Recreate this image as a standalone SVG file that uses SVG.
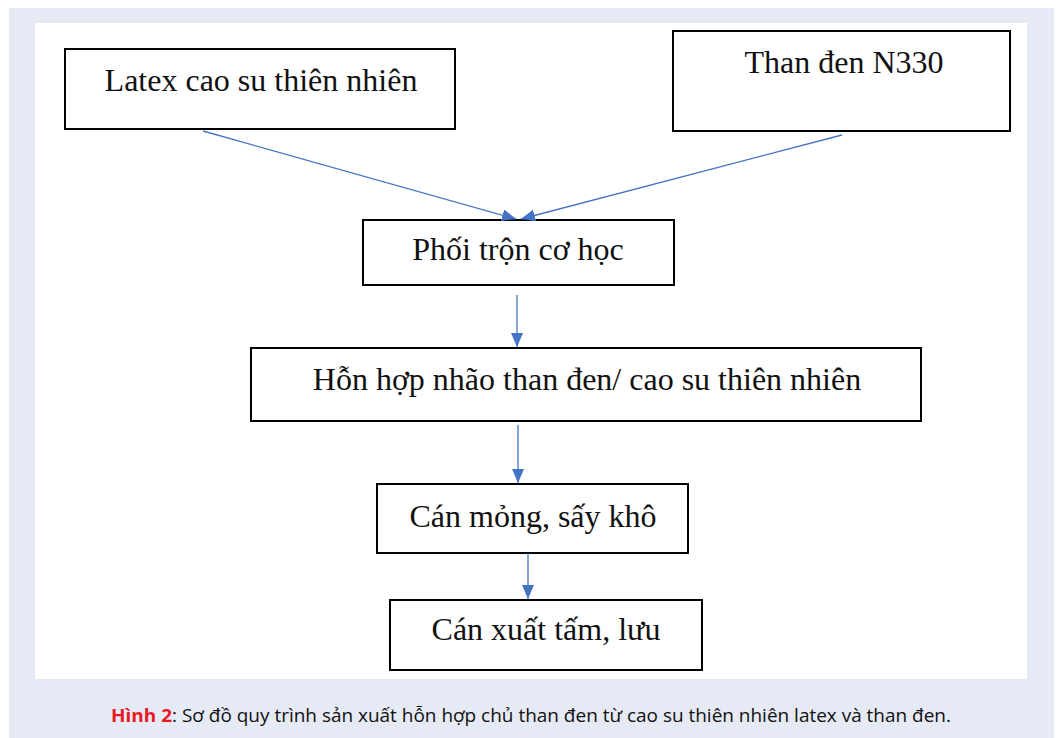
<svg xmlns="http://www.w3.org/2000/svg" width="1057" height="738" viewBox="0 0 1057 738">
<style>
.box{fill:#fff;stroke:#000;stroke-width:2}
.t{font-family:"Liberation Serif","Times New Roman",serif;font-size:32px;fill:#111;text-anchor:middle}
.c{stroke:#4472C4;stroke-width:1.3;fill:none}
.cap{font-family:"Open Sans","Noto Sans",sans-serif;font-size:18px;fill:#111}
</style>
<defs>
<marker id="ah" viewBox="0 0 14 12" refX="14" refY="6" markerWidth="14" markerHeight="12" markerUnits="userSpaceOnUse" orient="auto">
<path d="M0,0 L14,6 L0,12 Z" fill="#4472C4"/>
</marker>
</defs>
<rect x="9" y="8" width="1045" height="730" fill="#E6EAF5"/>
<rect x="35" y="23" width="992" height="656" fill="#fff"/>
<g id="n1"><rect class="box" x="65" y="49" width="390" height="80"/><text class="t" x="261" y="91">Latex cao su thiên nhiên</text></g>
<g id="n2"><rect class="box" x="673" y="31" width="337" height="100"/><text class="t" x="844" y="73">Than đen N330</text></g>
<g id="n3"><rect class="box" x="363" y="220" width="311" height="65"/><text class="t" x="518" y="260">Phối trộn cơ học</text></g>
<g id="n4"><rect class="box" x="251" y="348" width="670" height="73"/><text class="t" x="587" y="390">Hỗn hợp nhão than đen/ cao su thiên nhiên</text></g>
<g id="n5"><rect class="box" x="377" y="484" width="311" height="69"/><text class="t" x="533" y="527">Cán mỏng, sấy khô</text></g>
<g id="n6"><rect class="box" x="390" y="600" width="312" height="70"/><text class="t" x="546" y="640">Cán xuất tấm, lưu</text></g>
<g id="connectors">
<line class="c" x1="203" y1="131" x2="516" y2="219" marker-end="url(#ah)"/>
<line class="c" x1="842" y1="135" x2="521" y2="219" marker-end="url(#ah)"/>
<line class="c" x1="517" y1="295" x2="517" y2="347" marker-end="url(#ah)"/>
<line class="c" x1="518" y1="425" x2="518" y2="483" marker-end="url(#ah)"/>
<line class="c" x1="528" y1="553" x2="528" y2="599" marker-end="url(#ah)"/>
</g>
<text class="cap" x="531" y="722" text-anchor="middle" textLength="840" lengthAdjust="spacingAndGlyphs"><tspan fill="#E8191F" font-weight="bold">Hình 2</tspan>: Sơ đồ quy trình sản xuất hỗn hợp chủ than đen từ cao su thiên nhiên latex và than đen.</text>
</svg>
